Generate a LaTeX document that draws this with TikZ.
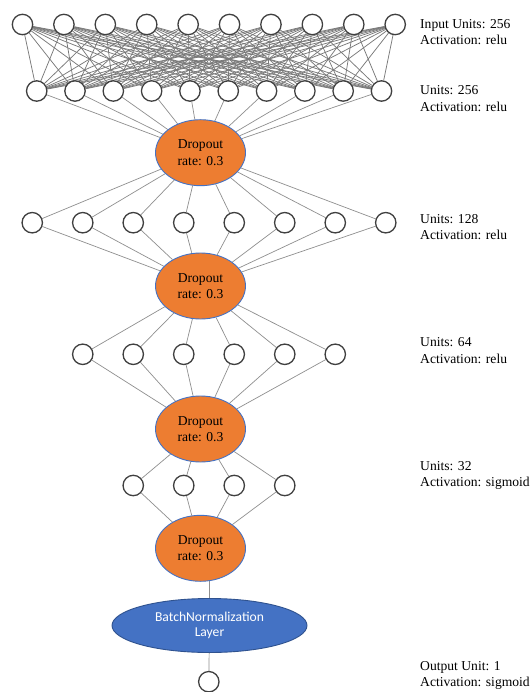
\documentclass[tikz,border=0pt]{standalone}
\usepackage{fontspec}
\setmainfont{Liberation Serif}
\newfontfamily\calibfont{Carlito}
\usetikzlibrary{shapes.geometric}
\pgfdeclarelayer{bg}
\pgfsetlayers{bg,main}
\definecolor{nodeedge}{HTML}{404040}
\definecolor{linkgray}{HTML}{8F8F8F}
\definecolor{meshgray}{HTML}{7A7A7A}
\definecolor{dropfill}{HTML}{ED7D31}
\definecolor{dropedge}{HTML}{4472C4}
\definecolor{bnfill}{HTML}{4472C4}
\definecolor{bnedge}{HTML}{2F528F}
\begin{document}
\begin{tikzpicture}[x=1bp,y=-1bp,
  unit/.style={circle, draw=nodeedge, line width=1.3bp, fill=white, minimum size=20.4bp, inner sep=0},
  dropnode/.style={ellipse, draw=dropedge, line width=0.9bp, fill=dropfill, minimum width=90bp, minimum height=66bp, inner sep=0, align=center, font=\rmfamily\fontsize{13.6bp}{16.4bp}\selectfont},
  bnnode/.style={ellipse, draw=bnedge, line width=0.9bp, fill=bnfill, minimum width=195bp, minimum height=54bp, inner sep=0, align=center, text=white, font=\calibfont\fontsize{13.6bp}{15.5bp}\selectfont},
  link/.style={draw=linkgray, line width=0.7bp},
  meshlink/.style={draw=meshgray, line width=0.75bp},
  lbl/.style={anchor=base west, inner sep=0, font=\rmfamily\fontsize{13.6bp}{16bp}\selectfont},
]
\useasboundingbox (0,0) rectangle (530,692);
\clip (0,0) rectangle (530,692);

% units
\foreach \i in {1,...,10} \node[unit] (a\i) at ({22.5+41.41*(\i-1)},24.5) {};
\foreach \i in {1,...,10} \node[unit] (b\i) at ({36.7+38.31*(\i-1)},91) {};
\foreach \i in {1,...,8} \node[unit] (c\i) at ({32.25+50.5*(\i-1)},222.7) {};
\foreach \i in {1,...,6} \node[unit] (d\i) at ({82.75+50.5*(\i-1)},354.3) {};
\foreach \i in {1,...,4} \node[unit] (e\i) at ({133.25+50.5*(\i-1)},485.5) {};
\node[unit] (out) at (208.8,681.7) {};

% dropout and batchnorm
\node[dropnode] (p1) at (200.5,152.7) {Dropout\\rate: 0.3};
\node[dropnode] (p2) at (200.5,286) {Dropout\\rate: 0.3};
\node[dropnode] (p3) at (200.5,429) {Dropout\\rate: 0.3};
\node[dropnode] (p4) at (200.5,548.3) {Dropout\\rate: 0.3};
\node[bnnode] (bn) at (209.5,625.5) {BatchNormalization\\Layer};

% labels
\node[lbl] (l1a) at (420,28.3) {Input Units: 256};
\node[lbl] (l1b) at (420,45) {Activation: relu};
\node[lbl] (l2a) at (420,95) {Units: 256};
\node[lbl] (l2b) at (420,111.7) {Activation: relu};
\node[lbl] (l3a) at (420,223) {Units: 128};
\node[lbl] (l3b) at (420,239.5) {Activation: relu};
\node[lbl] (l4a) at (420,346.7) {Units: 64};
\node[lbl] (l4b) at (420,363) {Activation: relu};
\node[lbl] (l5a) at (420,470) {Units: 32};
\node[lbl] (l5b) at (420,486.5) {Activation: sigmoid};
\node[lbl] (l6a) at (420,670) {Output Unit: 1};
\node[lbl] (l6b) at (420,686) {Activation: sigmoid};

% connectors
\begin{pgfonlayer}{bg}
\fill[white] (0,0) rectangle (530,692);
\foreach \i in {1,...,10} {
  \foreach \j in {1,...,10} { \draw[meshlink] (a\i) -- (b\j); }
  \draw[link] (b\i) -- (p1);
}
\foreach \i in {1,...,8} { \draw[link] (p1) -- (c\i); \draw[link] (c\i) -- (p2); }
\foreach \i in {1,...,6} { \draw[link] (p2) -- (d\i); \draw[link] (d\i) -- (p3); }
\foreach \i in {1,...,4} { \draw[link] (p3) -- (e\i); \draw[link] (e\i) -- (p4); }
\draw[link] (bn.north |- p4.center) -- (bn.north);
\draw[link] (bn) -- (out);
\end{pgfonlayer}
\end{tikzpicture}
\end{document}
